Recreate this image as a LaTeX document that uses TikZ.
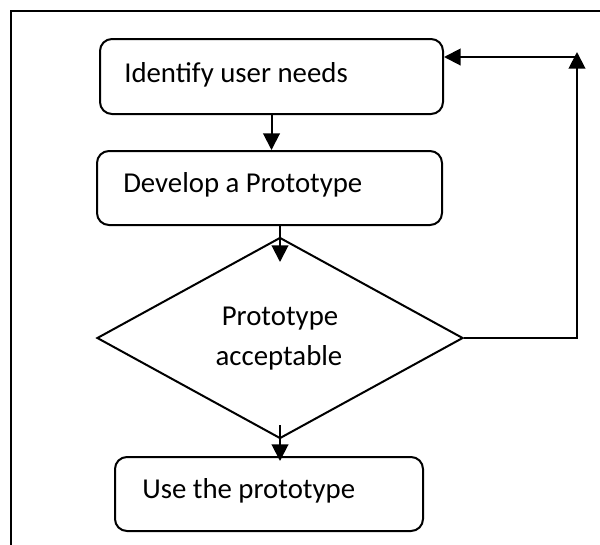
\documentclass[tikz,border=0pt]{standalone}
\usepackage{fontspec}
\setmainfont{Carlito}
\usetikzlibrary{arrows.meta,shapes.geometric}
\begin{document}
\begin{tikzpicture}[x=0.75pt,y=-0.75pt,
  box/.style={draw,line width=1.5pt,rounded corners=9pt,inner sep=0pt},
  lbl/.style={font=\fontsize{21.6}{26}\selectfont,inner sep=0pt,anchor=base west},
  ln/.style={line width=1.5pt},
  arr/.style={line width=1.5pt,-{Triangle[length=12.5pt,width=12.5pt]}}]
\clip (0,0) rectangle (600,544);
\fill[white] (0,0) rectangle (600,544);
\draw[ln] (11,11) rectangle (640,580);
\node[box,minimum width=257.25pt,minimum height=56.25pt] (b1) at (271.5,76.5) {};
\node[box,minimum width=258.75pt,minimum height=55.5pt] (b2) at (269.5,188) {};
\node[draw,diamond,line width=1.5pt,inner sep=0pt,minimum width=274.5pt,minimum height=150.75pt] (d) at (280,338) {};
\node[box,minimum width=231pt,minimum height=55.5pt] (b4) at (269,494) {};
\node[lbl] (t1) at (124,82) {Identify user needs};
\node[lbl] (t2) at (123,192) {Develop a Prototype};
\node[lbl,anchor=base] (t3a) at (280,325) {Prototype};
\node[lbl,anchor=base] (t3b) at (279,365) {acceptable};
\node[lbl] (t4) at (142,498) {Use the prototype};
\coordinate (c2) at (280,262);
\coordinate (c3) at (280,425);
\coordinate (c4) at (280,461);
\coordinate (c5) at (577,52);
\coordinate (c6) at (576,57);
\draw[arr] (b1.south) -- (b1.south |- b2.north);
\draw[arr] (b2.south -| d.north) -- (c2);
\draw[arr] (c3) -- (c4);
\draw[arr] (d.east) -| (c5);
\draw[arr] (c6) -- (c6 -| b1.east);
\end{tikzpicture}
\end{document}
